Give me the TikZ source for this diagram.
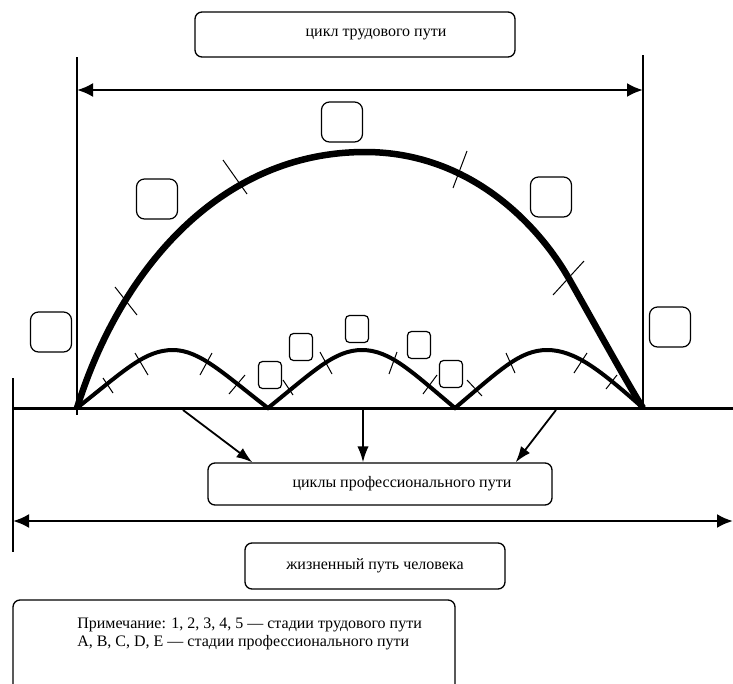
\documentclass[tikz,border=0pt]{standalone}
\usepackage{fontspec}
\setmainfont{Liberation Serif}
\usetikzlibrary{arrows.meta}

\newlength{\du}
\setlength{\du}{0.75pt}

\tikzset{
  labelbox/.style={draw, line width=1.3\du, rounded corners=7\du, inner sep=0pt, fill=white,
    font=\fontsize{12}{14}\selectfont},
  stagebox/.style={draw, line width=1.2\du, rounded corners=8\du, minimum width=41\du,
    minimum height=40\du, inner sep=0pt, fill=white},
  phasebox/.style={draw, line width=1.2\du, rounded corners=4\du, minimum width=23\du,
    minimum height=27\du, inner sep=0pt, fill=white},
  workline/.style={line width=6.5\du, line join=round},
  profline/.style={line width=4\du},
  tickline/.style={line width=1\du},
  guide/.style={line width=1.3\du},
  axisline/.style={line width=3\du},
  span/.style={line width=2.5\du, {Latex[length=12pt,width=10.5pt]}-{Latex[length=12pt,width=10.5pt]}},
  feed/.style={line width=1.8\du, -{Latex[length=12pt,width=8.5pt]}},
}

\begin{document}
\begin{tikzpicture}
\pgftransformxscale{1.000000}
\pgftransformyscale{-1.000000}
\clip (0\du,0\du) rectangle (733\du,683\du);
\useasboundingbox (0\du,0\du) rectangle (733\du,683\du);

% guide lines round the work cycle
\draw[guide] (77\du,57\du)--(77\du,415\du);
\draw[guide] (643\du,55\du)--(643\du,408\du);
\draw[guide] (13\du,378\du)--(13\du,552\du);
\coordinate (cycleL) at (77\du,90\du);
\coordinate (cycleR) at (643\du,90\du);
\draw[span] (cycleL)--(cycleR);

% life axis
\coordinate (axisL) at (12\du,408\du);
\coordinate (axisR) at (733\du,408\du);
\draw[axisline] (axisL)--(axisR);

% work path
\draw[workline] (77\du,408\du) .. controls (120\du,270\du) and (220\du,152\du) .. (365\du,152\du)
  .. controls (470\du,152\du) and (538\du,225\du) .. (568\du,277\du)
  .. controls (583\du,303\du) and (627\du,383\du) .. (643\du,408\du);
\draw[tickline] (115\du,287\du)--(137\du,315\du);
\draw[tickline] (223\du,160\du)--(247\du,194\du);
\draw[tickline] (467\du,151\du)--(453\du,188\du);
\draw[tickline] (584\du,261\du)--(553\du,295\du);

% professional path
\draw[profline] (77\du,408\du) .. controls (125\du,370\du) and (145\du,350\du) .. (173\du,350\du)
  .. controls (200\du,350\du) and (225\du,375\du) .. (268\du,408\du)
  .. controls (315\du,370\du) and (335\du,350\du) .. (362\du,350\du)
  .. controls (390\du,350\du) and (412\du,372\du) .. (455\du,408\du)
  .. controls (500\du,370\du) and (520\du,350\du) .. (547\du,350\du)
  .. controls (575\du,350\du) and (600\du,370\du) .. (643\du,408\du);
\draw[tickline] (103\du,378\du)--(113\du,393\du);
\draw[tickline] (135\du,353\du)--(148\du,375\du);
\draw[tickline] (212\du,353\du)--(200\du,375\du);
\draw[tickline] (245\du,375\du)--(229\du,394\du);
\draw[tickline] (283\du,380\du)--(293\du,395\du);
\draw[tickline] (320\du,352\du)--(332\du,374\du);
\draw[tickline] (397\du,352\du)--(389\du,374\du);
\draw[tickline] (437\du,375\du)--(423\du,394\du);
\draw[tickline] (467\du,380\du)--(482\du,396\du);
\draw[tickline] (506\du,353\du)--(515\du,373\du);
\draw[tickline] (587\du,353\du)--(574\du,373\du);
\draw[tickline] (617\du,375\du)--(606\du,389\du);

% stages 1-5
\node[stagebox] (st1) at (51\du,332\du) {};
\node[stagebox] (st2) at (157\du,199\du) {};
\node[stagebox] (st3) at (342\du,122\du) {};
\node[stagebox] (st4) at (551\du,197\du) {};
\node[stagebox] (st5) at (670\du,327\du) {};

% stages A-E
\node[phasebox] (phA) at (270\du,375\du) {};
\node[phasebox] (phB) at (301\du,347\du) {};
\node[phasebox] (phC) at (357\du,329\du) {};
\node[phasebox] (phD) at (419\du,345\du) {};
\node[phasebox] (phE) at (451\du,374\du) {};

% setfont left to latex
\node[labelbox, minimum width=320\du, minimum height=45\du] (workcycle) at (355\du,34.5\du) {\hspace*{42\du}цикл трудового пути};
\node[labelbox, minimum width=344\du, minimum height=42\du] (profcycles) at (380\du,484\du) {\hspace*{44\du}циклы профессионального пути};
\node[labelbox, minimum width=260\du, minimum height=46\du] (lifepath) at (375\du,566\du) {жизненный путь человека};
\node[labelbox, minimum width=442\du, minimum height=100\du] (note) at (234\du,650\du) {};
\node[anchor=west, align=left, inner sep=0pt, font=\fontsize{12}{14}\selectfont] (notetext) at (77\du,634\du)
  {Примечание: 1, 2, 3, 4, 5 — стадии трудового пути\\A, B, C, D, E — стадии профессионального пути};

% arrows down to the professional cycles
\coordinate (feedA) at (183\du,410\du);
\coordinate (feedB) at (363\du,410\du);
\coordinate (feedC) at (556\du,410\du);
\draw[feed] (feedA)--([xshift=45\du]profcycles.north west);
\draw[feed] (feedB)--([xshift=-17\du]profcycles.north);
\draw[feed] (feedC)--([xshift=-37\du]profcycles.north east);

% life span
\coordinate (lifeL) at (13\du,521\du);
\coordinate (lifeR) at (733\du,521\du);
\draw[span] (lifeL)--(lifeR);
\end{tikzpicture}
\end{document}
